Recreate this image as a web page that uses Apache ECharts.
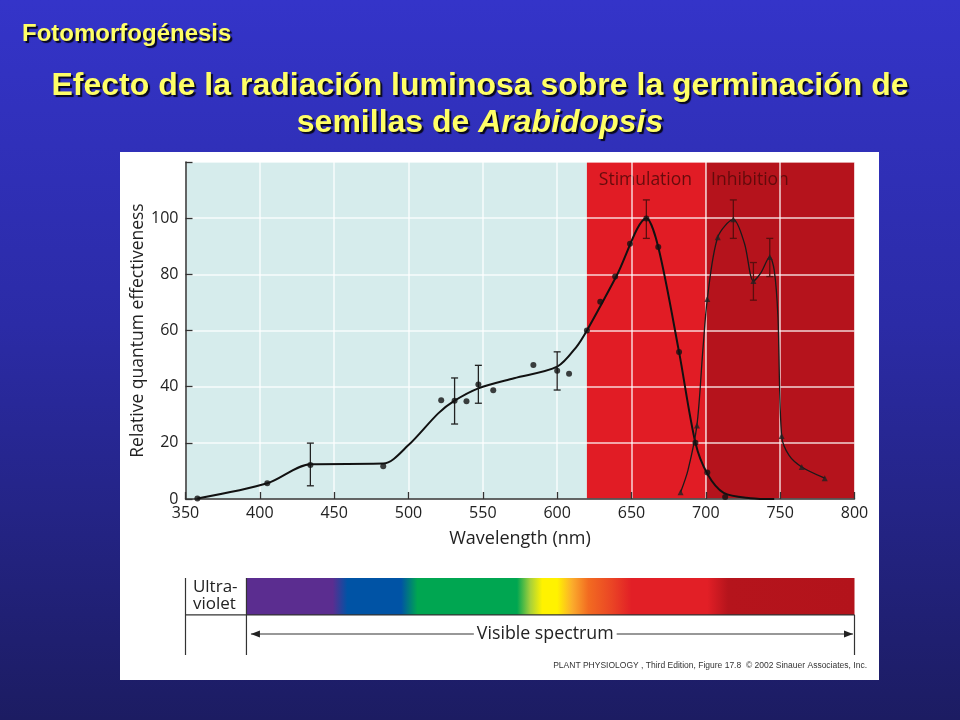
<!DOCTYPE html>
<html>
<head>
<meta charset="utf-8">
<script src="https://cdn.jsdelivr.net/npm/echarts@6/dist/echarts.min.js"></script>
<style>
html,body{margin:0;padding:0;width:960px;height:720px;overflow:hidden;
background:linear-gradient(to bottom,#3434c9 0%,#2b2ba6 45%,#1c1c62 100%);}
#c{width:960px;height:720px;}
</style>
</head>
<body>
<div id="c"></div>
<script>
// ---------- data ----------
const xTicks = [350, 400, 450, 500, 550, 600, 650, 700, 750, 800];
const yTicks = [0, 20, 40, 60, 80, 100, 120];

// Stimulation (circles)
const stimX = [358, 405, 434, 483, 522, 531, 539, 547, 557, 584, 600, 608, 620, 629, 639, 649, 660, 668, 682, 693, 701, 713];
const stimY = [0.2, 5.6, 12.1, 11.7, 35.2, 35.0, 34.8, 40.8, 38.7, 47.7, 45.7, 44.6, 60.0, 70.2, 79.2, 90.9, 99.9, 89.7, 52.3, 20.0, 9.4, 0.7];
// hand-drawn fitted curve through stimulation data
const stimFitX = [358, 405, 434, 483, 500, 520, 531, 547, 571, 600, 613, 620, 640, 660, 668, 682, 693, 701, 712, 730, 746];
const stimFitY = [0.2, 5.6, 12.4, 12.6, 19.2, 30.5, 35.0, 39.4, 43.0, 47.1, 54.2, 60.0, 79.5, 100.0, 89.7, 52.3, 20.0, 9.0, 2.2, 0.3, 0.0];
const stimErrX = [434, 531, 547, 600, 660];
const stimErrLo = [4.7, 26.7, 34.1, 38.8, 92.8];
const stimErrHi = [19.9, 43.1, 47.6, 52.4, 106.5];

// Inhibition (triangles)
const inhX = [683, 694, 701, 708, 718.5, 732, 743, 751, 764.5, 780];
const inhY = [2.4, 26.2, 71.2, 93.2, 99.6, 77.6, 86.2, 22.4, 11.4, 7.4];
const inhFitX = [683, 688, 694, 698, 701, 708, 718.5, 726, 732, 737, 743, 746, 748.5, 751, 756, 764.5, 780];
const inhFitY = [2.4, 10.3, 26.2, 53.0, 71.2, 93.2, 99.6, 91.0, 77.6, 80.5, 86.2, 81.5, 65.0, 22.4, 15.5, 11.4, 7.4];
const inhErrX = [718.5, 732, 743];
const inhErrLo = [92.8, 70.8, 79.2];
const inhErrHi = [106.5, 84.2, 92.8];

// background bands
const bandStart = [350, 620, 700];
const bandEnd = [620, 700, 800];
const bandLabels = ['', 'Stimulation', 'Inhibition'];
const bandLabelAt = [0, 628, 703.5];

// visible spectrum strip
const visibleStart = 391;
const visibleEnd = 800;
const spectrumWl = [391, 449, 459, 495, 506, 573, 582, 590, 600, 610, 621, 637, 650, 701, 715, 800];
const spectrumColors = ['#5b2d90', '#5b2d90', '#0053a5', '#0053a5', '#00a651', '#00a651', '#a8d13a', '#fff200', '#fff200', '#fbad2c', '#f26b21', '#ea4425', '#e21f26', '#e21f26', '#b5141c', '#b3131b'];

// ---------- styles ----------
const bandColors = ['#d6ecec', '#e11c25', '#b5131c'];
const FONT = '"Open Sans", "DejaVu Sans", sans-serif';

const zip = (a, b) => a.map((v, i) => [v, b[i]]);

const chart = echarts.init(document.getElementById('c'));

function errorBarRender(params, api) {
  const x = api.value(0);
  const p1 = api.coord([x, api.value(1)]);
  const p2 = api.coord([x, api.value(2)]);
  const col = x < bandStart[1] ? '#222222' : '#5a0e0e';
  const w = 3.5;
  const st = { stroke: col, lineWidth: 1.3 };
  return {
    type: 'group',
    children: [
      { type: 'line', shape: { x1: p1[0], y1: p1[1], x2: p2[0], y2: p2[1] }, style: st },
      { type: 'line', shape: { x1: p1[0] - w, y1: p1[1], x2: p1[0] + w, y2: p1[1] }, style: st },
      { type: 'line', shape: { x1: p2[0] - w, y1: p2[1], x2: p2[0] + w, y2: p2[1] }, style: st }
    ]
  };
}

const option = {
  backgroundColor: 'transparent',
  animation: false,
  textStyle: { fontFamily: FONT },
  grid: [
    { left: 185.5, right: 105.5, top: 162, bottom: 221 },
    { left: 185.5, right: 105.5, top: 578, height: 77 }
  ],
  xAxis: [
    {
      gridIndex: 0, type: 'value', min: xTicks[0], max: xTicks[xTicks.length - 1], interval: 50,
      axisLine: { show: true, onZero: false, lineStyle: { color: '#333', width: 1.5 } },
      axisTick: { show: true, inside: true, length: 7, lineStyle: { color: '#333', width: 1.3 } },
      axisLabel: { color: '#222', fontSize: 16, fontFamily: FONT, margin: 6 },
      splitLine: { show: true, lineStyle: { color: 'rgba(255,255,255,0.82)', width: 1.5 } },
      name: 'Wavelength (nm)', nameLocation: 'middle', nameGap: 31, nameMoveOverlap: false,
      nameTextStyle: { color: '#222', fontSize: 18, fontFamily: FONT }
    },
    { gridIndex: 1, type: 'value', min: 350, max: 800, show: false }
  ],
  yAxis: [
    {
      gridIndex: 0, type: 'value', min: yTicks[0], max: yTicks[yTicks.length - 1], interval: 20,
      axisLine: { show: true, onZero: false, lineStyle: { color: '#333', width: 1.5 } },
      axisTick: { show: true, inside: true, length: 7, lineStyle: { color: '#333', width: 1.3 } },
      axisLabel: { color: '#222', fontSize: 16, fontFamily: FONT, margin: 7,
        formatter: v => (v === 120 ? '' : String(v)) },
      splitLine: { show: true, lineStyle: { color: 'rgba(255,255,255,0.82)', width: 1.5 } },
      name: 'Relative quantum effectiveness', nameLocation: 'middle', nameGap: 38, nameRotate: 90,
      nameMoveOverlap: false,
      nameTextStyle: { color: '#222', fontSize: 17.5, fontFamily: FONT }
    },
    { gridIndex: 1, type: 'value', min: 0, max: 1, show: false }
  ],
  graphic: [
    { type: 'rect', z: -100, shape: { x: 120, y: 152, width: 759, height: 528 }, style: { fill: '#ffffff' } },
    { type: 'text', z: 10, style: { text: 'Fotomorfogénesis', x: 22, y: 34, fill: '#ffff66',
        font: 'bold 24px "Liberation Sans", Arial, sans-serif', align: 'left', verticalAlign: 'middle',
        textShadowColor: 'rgba(0,0,0,0.85)', textShadowOffsetX: 2, textShadowOffsetY: 2, textShadowBlur: 1 } },
    { type: 'text', z: 10, style: { text: 'Efecto de la radiación luminosa sobre la germinación de', x: 480, y: 86, fill: '#ffff66',
        font: 'bold 32px "Liberation Sans", Arial, sans-serif', align: 'center', verticalAlign: 'middle',
        textShadowColor: 'rgba(0,0,0,0.85)', textShadowOffsetX: 2, textShadowOffsetY: 2, textShadowBlur: 1 } },
    { type: 'text', z: 10, style: { text: '{a|semillas de }{b|Arabidopsis}', x: 480, y: 123,
        align: 'center', verticalAlign: 'middle',
        rich: {
          a: { fill: '#ffff66', font: 'bold 32px "Liberation Sans", Arial, sans-serif',
               textShadowColor: 'rgba(0,0,0,0.85)', textShadowOffsetX: 2, textShadowOffsetY: 2, textShadowBlur: 1 },
          b: { fill: '#ffff66', font: 'italic bold 32px "Liberation Sans", Arial, sans-serif',
               textShadowColor: 'rgba(0,0,0,0.85)', textShadowOffsetX: 2, textShadowOffsetY: 2, textShadowBlur: 1 }
        } } },
    { type: 'text', z: 10, style: { text: 'PLANT PHYSIOLOGY , Third Edition, Figure 17.8  © 2002 Sinauer Associates, Inc.',
        x: 867, y: 666, fill: '#333', font: '8.5px "Liberation Sans Narrow", "Liberation Sans", Arial, sans-serif',
        align: 'right', verticalAlign: 'middle' } }
  ],
  series: [
    {
      type: 'custom', name: 'bands', xAxisIndex: 0, yAxisIndex: 0, z: -1, silent: true,
      encode: { x: [0, 1] },
      data: bandStart.map((s, i) => [s, bandEnd[i], i]),
      renderItem: (params, api) => {
        const i = api.value(2);
        const p0 = api.coord([api.value(0), 120]);
        const p1 = api.coord([api.value(1), 0]);
        const children = [{ type: 'rect', shape: { x: p0[0], y: p0[1], width: p1[0] - p0[0], height: p1[1] - p0[1] },
          style: { fill: bandColors[i] } }];
        if (bandLabels[i]) {
          const q = api.coord([bandLabelAt[i], 120]);
          children.push({ type: 'text', style: { text: bandLabels[i], x: q[0], y: q[1] + 18, fill: 'rgba(90,10,10,0.9)',
            font: '17.5px ' + FONT, align: 'left', verticalAlign: 'middle' } });
        }
        return { type: 'group', children };
      }
    },
    {
      type: 'line', name: 'stimFit', xAxisIndex: 0, yAxisIndex: 0, data: zip(stimFitX, stimFitY),
      smooth: 0.3, showSymbol: false, silent: true, z: 3,
      lineStyle: { color: '#111', width: 2 }
    },
    {
      type: 'line', name: 'inhFit', xAxisIndex: 0, yAxisIndex: 0, data: zip(inhFitX, inhFitY),
      smooth: 0.3, showSymbol: false, silent: true, z: 3,
      lineStyle: { color: '#1a1a1a', width: 1.3 }
    },
    {
      type: 'custom', name: 'err', xAxisIndex: 0, yAxisIndex: 0, z: 4, silent: true,
      encode: { x: 0, y: [1, 2] },
      data: stimErrX.map((x, i) => [x, stimErrLo[i], stimErrHi[i]]).concat(inhErrX.map((x, i) => [x, inhErrLo[i], inhErrHi[i]])),
      renderItem: errorBarRender
    },
    {
      type: 'scatter', name: 'Stimulation', xAxisIndex: 0, yAxisIndex: 0, data: zip(stimX, stimY),
      symbol: 'circle', symbolSize: 6, z: 5, itemStyle: { color: '#111' }
    },
    {
      type: 'scatter', name: 'Inhibition', xAxisIndex: 0, yAxisIndex: 0, data: zip(inhX, inhY),
      symbol: 'triangle', symbolSize: 6, z: 5, itemStyle: { color: '#222' }
    },
    {
      type: 'custom', name: 'spectrum', xAxisIndex: 1, yAxisIndex: 1, silent: true,
      encode: { x: [0, 1] },
      data: [[visibleStart, visibleEnd]],
      renderItem: (params, api) => {
        const s = api.value(0), e = api.value(1);
        const p0 = api.coord([s, 1]);
        const p1 = api.coord([e, 0.52]);
        const stops = spectrumWl.map((w, i) => ({ offset: (w - s) / (e - s), color: spectrumColors[i] }));
        return { type: 'rect', shape: { x: p0[0], y: p0[1], width: p1[0] - p0[0], height: p1[1] - p0[1] },
          style: { fill: new echarts.graphic.LinearGradient(0, 0, 1, 0, stops) } };
      }
    },
    {
      type: 'custom', name: 'frame', xAxisIndex: 1, yAxisIndex: 1, silent: true,
      encode: { x: [0, 1] },
      data: [[visibleStart, visibleEnd]],
      renderItem: (params, api) => {
        const s = api.value(0), e = api.value(1);
        const st = { stroke: '#333', lineWidth: 1.2 };
        const c = (x, y) => api.coord([x, y]);
        const L = (a, b) => ({ type: 'line', shape: { x1: a[0], y1: a[1], x2: b[0], y2: b[1] }, style: st });
        const yMid = 0.52, yArrow = 0.273;
        const a0 = c(s + 3, yArrow), a1 = c(e - 1, yArrow);
        const ah = 9, aw = 3.5;
        return {
          type: 'group',
          children: [
            L(c(350, 1), c(350, 0)),
            L(c(s, 1), c(s, 0)),
            L(c(e, yMid), c(e, 0)),
            L(c(350, yMid), c(e, yMid)),
            L(a0, a1),
            { type: 'polygon', shape: { points: [[a0[0], a0[1]], [a0[0] + ah, a0[1] - aw], [a0[0] + ah, a0[1] + aw]] }, style: { fill: '#222' } },
            { type: 'polygon', shape: { points: [[a1[0], a1[1]], [a1[0] - ah, a1[1] - aw], [a1[0] - ah, a1[1] + aw]] }, style: { fill: '#222' } },
            { type: 'text', style: { text: 'Visible spectrum', x: c(592, 0)[0], y: a0[1], fill: '#222',
                font: '17.8px ' + FONT, align: 'center', verticalAlign: 'middle', backgroundColor: '#fff', padding: [0, 3] } },
            { type: 'text', style: { text: 'Ultra-\nviolet', x: c(355, 0)[0], y: c(0, 0.77)[1], fill: '#222',
                font: '17px ' + FONT, lineHeight: 17, align: 'left', verticalAlign: 'middle' } }
          ]
        };
      }
    }
  ]
};
chart.setOption(option);
</script>
</body>
</html>
